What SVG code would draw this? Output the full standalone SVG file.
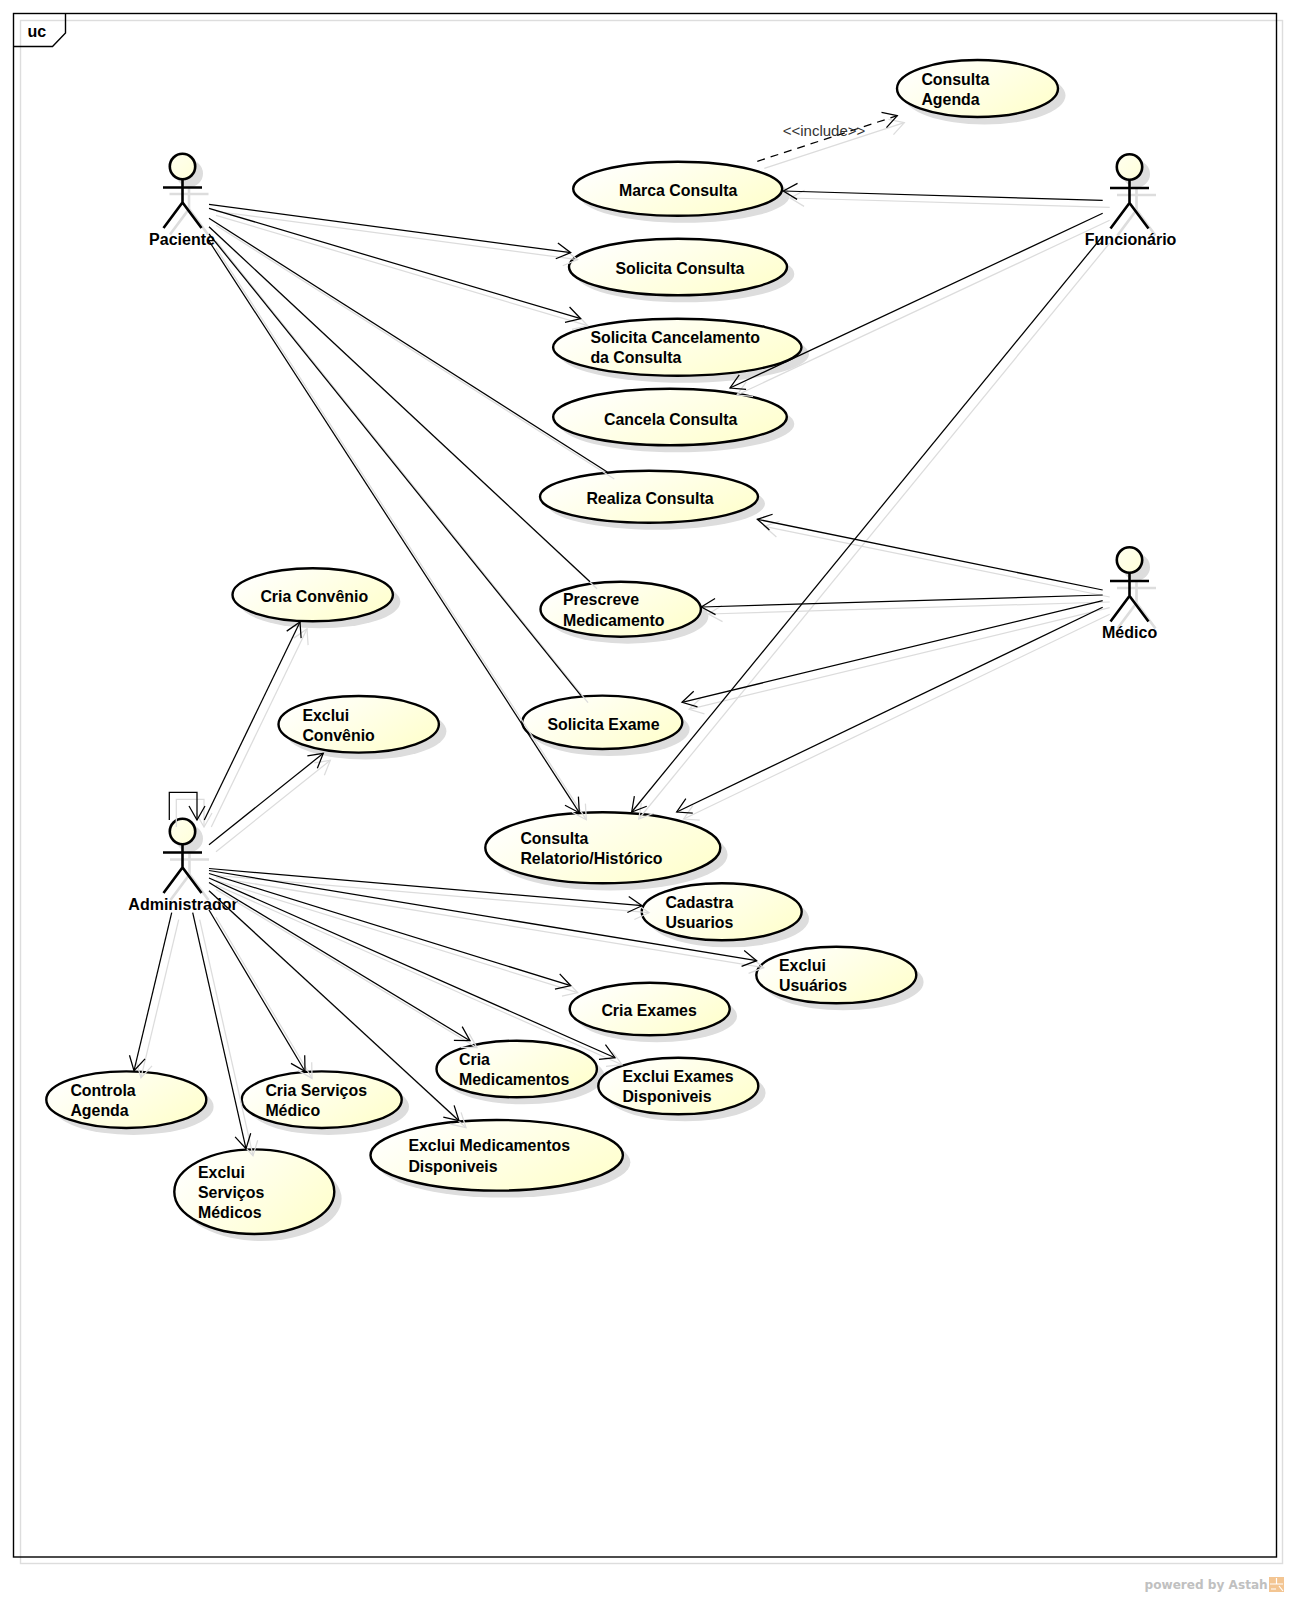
<svg xmlns="http://www.w3.org/2000/svg" width="1289" height="1597" viewBox="0 0 1289 1597">
<style>
text{font-family:"Liberation Sans",Arial,sans-serif;font-size:16px;font-weight:bold;fill:#000}
g[id^=uc-] text{font-size:15.9px;transform:translateX(-.3px)}
.u{fill:url(#g);stroke:#000;stroke-width:2.4}
.us{fill:#ddd;stroke:none}
.a{fill:none;stroke:#000;stroke-width:2.6}
.as{fill:none;stroke:#ddd;stroke-width:2.6}
.hd{fill:url(#h);stroke:#000;stroke-width:2.6}
.hs{fill:#ddd;stroke:none}
.l{fill:none;stroke:#000;stroke-width:1.25}
.ls{fill:none;stroke:#dcdcdc;stroke-width:1.25}
.m{marker-end:url(#ar)}
.ms{marker-end:url(#ars)}
.c{text-anchor:middle}
</style>
<defs>
<linearGradient id="g" x1="0" y1="0.2" x2="1" y2="0.8"><stop offset="0" stop-color="#fff"/><stop offset="1" stop-color="#ffffcc"/></linearGradient>
<linearGradient id="h" x1="0" y1="0" x2="1" y2="1"><stop offset="0" stop-color="#fffff0"/><stop offset="1" stop-color="#ffffd8"/></linearGradient>
<marker id="ar" markerUnits="userSpaceOnUse" markerWidth="32" markerHeight="32" refX="16" refY="16" orient="auto" overflow="visible"><path d="M2,8 L16,16 L2,24" fill="none" stroke="#000" stroke-width="1.25"/></marker>
<marker id="ars" markerUnits="userSpaceOnUse" markerWidth="32" markerHeight="32" refX="16" refY="16" orient="auto" overflow="visible"><path d="M2,8 L16,16 L2,24" fill="none" stroke="#dcdcdc" stroke-width="1.25"/></marker>
<g id="stick"><path d="M0,12.7V36M-19.5,21H19.5M-19,61.5L0,36L19,61.5"/></g>
</defs>
<rect width="1289" height="1597" fill="#fff"/>
<g id="frame">
<rect x="20.5" y="20.5" width="1262" height="1543" fill="none" stroke="#ddd" stroke-width="1.4"/>
<rect x="13.5" y="13.5" width="1263" height="1543.5" fill="none" stroke="#000" stroke-width="1.4"/>
<path d="M65.5,13.5V33L52.5,46.5H13.5" fill="none" stroke="#000" stroke-width="1.4"/>
<text x="27.5" y="36.5">uc</text>
</g>
<g id="uc-consulta-agenda"><ellipse class="us" cx="984.5" cy="95.5" rx="81" ry="29"/><ellipse class="u" cx="977.5" cy="88.5" rx="80.5" ry="28.5"/><text x="921.7" y="85">Consulta</text><text x="921.7" y="105">Agenda</text></g>
<g id="uc-marca-consulta"><ellipse class="us" cx="684.7" cy="195.7" rx="105" ry="27"/><ellipse class="u" cx="677.7" cy="188.7" rx="104.5" ry="27"/><text x="619.3" y="195.7">Marca Consulta</text></g>
<g id="uc-solicita-consulta"><ellipse class="us" cx="685" cy="274" rx="109.3" ry="28.3"/><ellipse class="u" cx="678" cy="267" rx="109" ry="28.3"/><text x="615.7" y="274">Solicita Consulta</text></g>
<g id="uc-solicita-cancelamento"><ellipse class="us" cx="684.3" cy="354.2" rx="124.7" ry="28.5"/><ellipse class="u" cx="677.3" cy="347.2" rx="124.2" ry="28.5"/><text x="590.7" y="342.7">Solicita Cancelamento</text><text x="590.7" y="362.7">da Consulta</text></g>
<g id="uc-cancela-consulta"><ellipse class="us" cx="677" cy="424" rx="117.3" ry="28.3"/><ellipse class="u" cx="670" cy="417" rx="116.8" ry="28.3"/><text x="604.3" y="424.7">Cancela Consulta</text></g>
<g id="uc-realiza-consulta"><ellipse class="us" cx="656" cy="503.7" rx="109" ry="26"/><ellipse class="u" cx="649" cy="496.7" rx="109" ry="26"/><text x="586.7" y="504">Realiza Consulta</text></g>
<g id="uc-prescreve"><ellipse class="us" cx="627.7" cy="616.2" rx="80.7" ry="27.5"/><ellipse class="u" cx="620.7" cy="609.2" rx="80.2" ry="27.5"/><text x="563.3" y="605">Prescreve</text><text x="563.3" y="625.7">Medicamento</text></g>
<g id="uc-solicita-exame"><ellipse class="us" cx="609.3" cy="729.3" rx="80.3" ry="26.7"/><ellipse class="u" cx="602.3" cy="722.3" rx="80" ry="26.7"/><text x="547.7" y="730">Solicita Exame</text></g>
<g id="uc-consulta-relatorio"><ellipse class="us" cx="609.8" cy="854.7" rx="117.8" ry="35.7"/><ellipse class="u" cx="602.8" cy="847.7" rx="117.5" ry="35.5"/><text x="520.7" y="844">Consulta</text><text x="520.7" y="864">Relatorio/Histórico</text></g>
<g id="uc-cria-convenio"><ellipse class="us" cx="319.7" cy="601.8" rx="80.7" ry="26.5"/><ellipse class="u" cx="312.7" cy="594.8" rx="80.2" ry="26.5"/><text x="260.7" y="601.7">Cria Convênio</text></g>
<g id="uc-exclui-convenio"><ellipse class="us" cx="365.7" cy="731.3" rx="80.7" ry="28.3"/><ellipse class="u" cx="358.7" cy="724.3" rx="80.2" ry="28.3"/><text x="302.7" y="721.2">Exclui</text><text x="302.7" y="741">Convênio</text></g>
<g id="uc-cadastra-usuarios"><ellipse class="us" cx="728.7" cy="918.8" rx="80.3" ry="28.5"/><ellipse class="u" cx="721.7" cy="911.8" rx="80" ry="28.5"/><text x="665.7" y="907.7">Cadastra</text><text x="665.7" y="927.7">Usuarios</text></g>
<g id="uc-exclui-usuarios"><ellipse class="us" cx="843.3" cy="982" rx="80.3" ry="28.3"/><ellipse class="u" cx="836.3" cy="975" rx="80" ry="28.3"/><text x="779.3" y="970.7">Exclui</text><text x="779.3" y="990.7">Usuários</text></g>
<g id="uc-cria-exames"><ellipse class="us" cx="656.7" cy="1016" rx="80.3" ry="26.3"/><ellipse class="u" cx="649.7" cy="1009" rx="80" ry="26.3"/><text x="601.7" y="1016">Cria Exames</text></g>
<g id="uc-cria-medicamentos"><ellipse class="us" cx="523.7" cy="1076" rx="80.7" ry="28.3"/><ellipse class="u" cx="516.7" cy="1069" rx="80.2" ry="28.3"/><text x="459.3" y="1065">Cria</text><text x="459.3" y="1085">Medicamentos</text></g>
<g id="uc-exclui-exames"><ellipse class="us" cx="685.3" cy="1093" rx="80.3" ry="28.3"/><ellipse class="u" cx="678.3" cy="1086" rx="80" ry="28.3"/><text x="622.7" y="1081.7">Exclui Exames</text><text x="622.7" y="1101.7">Disponiveis</text></g>
<g id="uc-exclui-medicamentos"><ellipse class="us" cx="503.7" cy="1162.3" rx="126.7" ry="35.3"/><ellipse class="u" cx="496.7" cy="1155.3" rx="126.2" ry="35.3"/><text x="408.7" y="1150.7">Exclui Medicamentos</text><text x="408.7" y="1171.7">Disponiveis</text></g>
<g id="uc-controla-agenda"><ellipse class="us" cx="133.3" cy="1106.7" rx="80.3" ry="28.3"/><ellipse class="u" cx="126.3" cy="1099.7" rx="80" ry="28.3"/><text x="70.7" y="1095.7">Controla</text><text x="70.7" y="1116">Agenda</text></g>
<g id="uc-cria-servicos"><ellipse class="us" cx="328.7" cy="1106.7" rx="80.3" ry="28.3"/><ellipse class="u" cx="321.7" cy="1099.7" rx="80" ry="28.3"/><text x="265.7" y="1095.7">Cria Serviços</text><text x="265.7" y="1116">Médico</text></g>
<g id="uc-exclui-servicos"><ellipse class="us" cx="261.3" cy="1198.7" rx="80.3" ry="42.3"/><ellipse class="u" cx="254.3" cy="1191.7" rx="80" ry="42.3"/><text x="198.3" y="1178">Exclui</text><text x="198.3" y="1198">Serviços</text><text x="198.3" y="1218">Médicos</text></g>
<g id="actor-paciente"><circle class="hs" cx="189.5" cy="173.5" r="13.5"/><use href="#stick" class="as" x="189" y="173"/><circle class="hd" cx="182.5" cy="166.5" r="12.7"/><use href="#stick" class="a" x="182.5" y="166.5"/><text class="c" x="182" y="245">Paciente</text></g>
<g id="actor-funcionario"><circle class="hs" cx="1136.5" cy="174" r="13.5"/><use href="#stick" class="as" x="1136.5" y="174"/><circle class="hd" cx="1129.5" cy="167" r="12.7"/><use href="#stick" class="a" x="1129.5" y="167"/><text class="c" x="1130.6" y="245">Funcionário</text></g>
<g id="actor-medico"><circle class="hs" cx="1136.5" cy="567" r="13.5"/><use href="#stick" class="as" x="1136.5" y="567"/><circle class="hd" cx="1129.5" cy="560" r="12.7"/><use href="#stick" class="a" x="1129.5" y="560"/><text class="c" x="1129.6" y="637.5">Médico</text></g>
<g id="actor-administrador"><circle class="hs" cx="189.5" cy="838.5" r="13.5"/><use href="#stick" class="as" x="189.5" y="838.5"/><circle class="hd" cx="182.5" cy="831.5" r="12.7"/><use href="#stick" class="a" x="182.5" y="831.5"/><text class="c" x="183" y="909.5">Administrador</text></g>
<g id="connector-shadows" class="ls" transform="translate(7 7)">
<path class="ms" d="M209,204.3L570.7,252.7"/>
<path class="ms" d="M209,208.3L580.7,318.7"/>
<path d="M209,218.3L607.3,472"/>
<path d="M209,226.7L590,581.7"/>
<path d="M209,234L581,695.7"/>
<path class="ms" d="M209,241L579.3,812.7"/>
<path class="ms" d="M1102.7,200.3L783.3,191"/>
<path class="ms" d="M1102.7,213.3L730,388"/>
<path class="ms" d="M1102.7,236L631.7,812"/>
<path class="ms" d="M1102.7,590L757.3,519.3"/>
<path class="ms" d="M1102.7,595L701.3,607"/>
<path class="ms" d="M1102.7,600.7L682,702.3"/>
<path class="ms" d="M1102.7,607.3L676.7,812"/>
<path class="ms" d="M757.3,161.3L897.3,115.7"/>
<path class="ms" d="M169.3,820V792.3H197V820"/>
<path class="ms" d="M204.3,820L300,622"/>
<path class="ms" d="M209,844.7L323.3,753.3"/>
<path class="ms" d="M209,868.5L642,905.7"/>
<path class="ms" d="M209,870.5L756.7,960.7"/>
<path class="ms" d="M209,873.5L570.7,985.7"/>
<path class="ms" d="M209,878L615,1057.7"/>
<path class="ms" d="M209,882.5L470,1040.7"/>
<path class="ms" d="M209,890.7L459,1120.7"/>
<path class="ms" d="M209,910L305,1071.3"/>
<path class="ms" d="M192.7,912.7L246,1148.7"/>
<path class="ms" d="M171.7,912.7L134,1070.7"/>
</g>
<g id="connectors" class="l">
<path class="m" d="M209,204.3L570.7,252.7"/>
<path class="m" d="M209,208.3L580.7,318.7"/>
<path d="M209,218.3L607.3,472"/>
<path d="M209,226.7L590,581.7"/>
<path d="M209,234L581,695.7"/>
<path class="m" d="M209,241L579.3,812.7"/>
<path class="m" d="M1102.7,200.3L783.3,191"/>
<path class="m" d="M1102.7,213.3L730,388"/>
<path class="m" d="M1102.7,236L631.7,812"/>
<path class="m" d="M1102.7,590L757.3,519.3"/>
<path class="m" d="M1102.7,595L701.3,607"/>
<path class="m" d="M1102.7,600.7L682,702.3"/>
<path class="m" d="M1102.7,607.3L676.7,812"/>
<path class="m" stroke-dasharray="8 6" d="M757.3,161.3L897.3,115.7"/>
<path class="m" d="M169.3,820V792.3H197V820"/>
<path class="m" d="M204.3,820L300,622"/>
<path class="m" d="M209,844.7L323.3,753.3"/>
<path class="m" d="M209,868.5L642,905.7"/>
<path class="m" d="M209,870.5L756.7,960.7"/>
<path class="m" d="M209,873.5L570.7,985.7"/>
<path class="m" d="M209,878L615,1057.7"/>
<path class="m" d="M209,882.5L470,1040.7"/>
<path class="m" d="M209,890.7L459,1120.7"/>
<path class="m" d="M209,910L305,1071.3"/>
<path class="m" d="M192.7,912.7L246,1148.7"/>
<path class="m" d="M171.7,912.7L134,1070.7"/>
<text x="782.7" y="135.7" style="font-size:15px;font-weight:normal;fill:#333;stroke:none">&lt;&lt;include&gt;&gt;</text>
</g>
<g id="watermark">
<text x="1144.5" y="1588.5" style="font-family:'DejaVu Sans',sans-serif;font-size:12.1px;fill:#c0c0c0">powered by Astah</text>
<rect x="1269" y="1577" width="15" height="15" fill="#f3c592"/>
<path d="M1270,1584H1283M1276.5,1578V1584M1279,1586L1283,1591M1271,1589H1276" stroke="#fff" stroke-width="1.2" fill="none"/>
</g>
</svg>
